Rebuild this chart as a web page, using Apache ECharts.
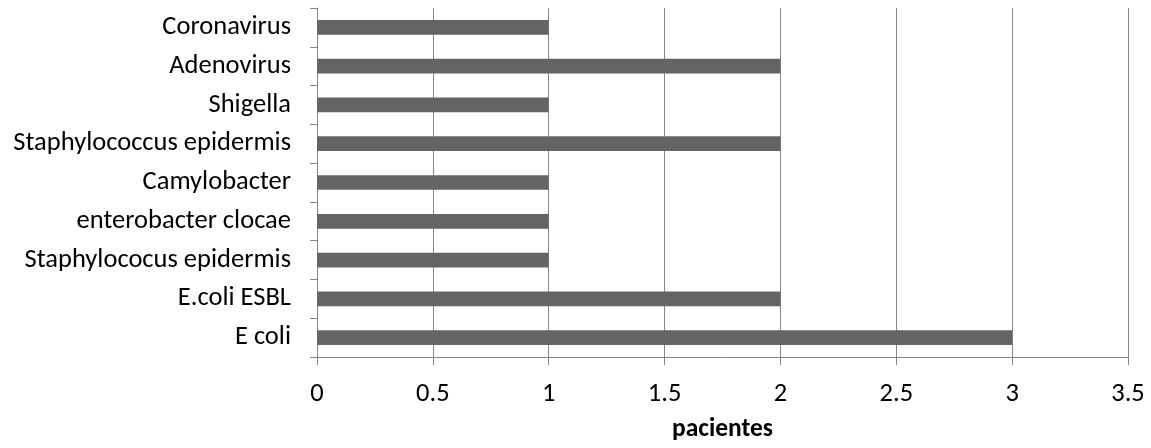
<!DOCTYPE html>
<html><head><meta charset="utf-8">
<script src="https://cdn.jsdelivr.net/npm/echarts@6/dist/echarts.min.js"></script>
<style>html,body{margin:0;padding:0;background:#fff}#c{width:1151px;height:448px}</style>
</head><body><div id="c"></div>
<script>
const categories = ["E coli","E.coli ESBL","Staphylococus epidermis","enterobacter clocae","Camylobacter","Staphylococcus epidermis","Shigella","Adenovirus","Coronavirus"];
const values = [3,2,1,1,1,2,1,2,1];
const xAxisName = "pacientes";
const FONT = "Carlito, Lato";
const FS = 26.5;
const chart = echarts.init(document.getElementById('c'));
chart.setOption({
  animation:false,
  grid:{left:317,right:23,top:8,bottom:91,containLabel:false,outerBoundsMode:'none'},
  xAxis:{type:'value',min:0,max:3.5,interval:0.5,
    name:xAxisName,nameLocation:'middle',nameGap:60,
    nameTextStyle:{fontFamily:FONT,fontSize:25.5,fontWeight:'bold',color:'#000'},
    axisLine:{show:true,lineStyle:{color:'#868686',width:1}},
    axisTick:{show:true,length:8,lineStyle:{color:'#868686'}},
    axisLabel:{fontFamily:FONT,fontSize:FS,color:'#000',margin:24},
    splitLine:{show:true,lineStyle:{color:'#868686',width:1}}},
  yAxis:{type:'category',data:categories,
    axisLine:{show:true,lineStyle:{color:'#868686',width:1}},
    axisTick:{show:true,length:7,alignWithLabel:false,lineStyle:{color:'#868686'}},
    axisLabel:{fontFamily:FONT,fontSize:FS,color:'#000',margin:26}},
  series:[{type:'bar',data:values,barCategoryGap:'62%',itemStyle:{color:'#646464'}}]
});
</script></body></html>
